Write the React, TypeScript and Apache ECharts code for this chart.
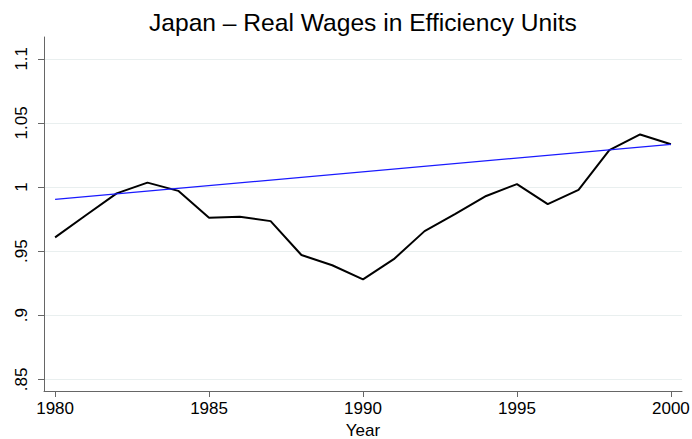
import React, { useEffect, useRef } from "react";
import * as echarts from "echarts";

const years = [1980, 1981, 1982, 1983, 1984, 1985, 1986, 1987, 1988, 1989, 1990, 1991, 1992, 1993, 1994, 1995, 1996, 1997, 1998, 1999, 2000];
const realWages = [0.9607, 0.978, 0.995, 1.0034, 0.997, 0.976, 0.9768, 0.9734, 0.947, 0.939, 0.928, 0.9437, 0.9656, 0.979, 0.993, 1.0023, 0.9867, 0.9977, 1.0287, 1.041, 1.0333];
const trendYears = [1980, 2000];
const trendValues = [0.9904, 1.0333];
const yTicks = [0.85, 0.9, 0.95, 1, 1.05, 1.1];
const xTicks = [1980, 1985, 1990, 1995, 2000];

const fmtY = (v: number) => {
  const s = String(Math.round(v * 100) / 100);
  return s.startsWith("0.") ? s.slice(1) : s;
};

export default function App() {
  const ref = useRef<HTMLDivElement>(null);
  useEffect(() => {
    if (!ref.current) return;
    const chart = echarts.init(ref.current, null, { renderer: "svg" });
    const font = "'Liberation Sans', Arial, sans-serif";
    chart.setOption({
      animation: false,
      backgroundColor: "#ffffff",
      title: {
        text: "Japan – Real Wages in Efficiency Units",
        left: 144,
        top: 5,
        textStyle: { fontFamily: font, fontSize: 24.6, fontWeight: "normal", color: "#000" },
      },
      grid: { left: 44, right: 10, top: 37, bottom: 48, outerBoundsMode: "none", containLabel: false },
      xAxis: {
        type: "value",
        min: 1979.64,
        max: 2000.36,
        name: "Year",
        nameLocation: "middle",
        nameGap: 25,
        nameTextStyle: { fontFamily: font, fontSize: 17, color: "#000" },
        axisLine: { show: true, lineStyle: { color: "#666", width: 1 } },
        axisTick: { show: true, length: 6, customValues: xTicks, lineStyle: { color: "#666" } },
        axisLabel: {
          customValues: xTicks,
          fontFamily: font,
          fontSize: 17,
          color: "#000",
          margin: 9,
          formatter: (v: number) => String(v),
        },
        splitLine: { show: false },
      },
      yAxis: {
        type: "value",
        min: 0.8409,
        max: 1.117,
        axisLine: { show: true, lineStyle: { color: "#666", width: 1 } },
        axisTick: { show: true, length: 6, customValues: yTicks, lineStyle: { color: "#666" } },
        axisLabel: {
          customValues: yTicks,
          rotate: 90,
          align: "center",
          verticalAlign: "bottom",
          fontFamily: font,
          fontSize: 17,
          color: "#000",
          margin: 14,
          formatter: (v: number) => fmtY(v),
        },
        splitLine: { show: true, lineStyle: { color: "#e9efef", width: 1 } },
      },
      series: [
        {
          type: "line",
          data: years.map((y, i) => [y, realWages[i]]),
          showSymbol: false,
          lineStyle: { color: "#000", width: 2 },
          z: 3,
        },
        {
          type: "line",
          data: trendYears.map((y, i) => [y, trendValues[i]]),
          showSymbol: false,
          lineStyle: { color: "#1a1aff", width: 1.3 },
          z: 4,
        },
      ],
    });
    return () => chart.dispose();
  }, []);
  return <div ref={ref} style={{ width: 692, height: 439, position: "absolute", left: 0, top: 0 }} />;
}
